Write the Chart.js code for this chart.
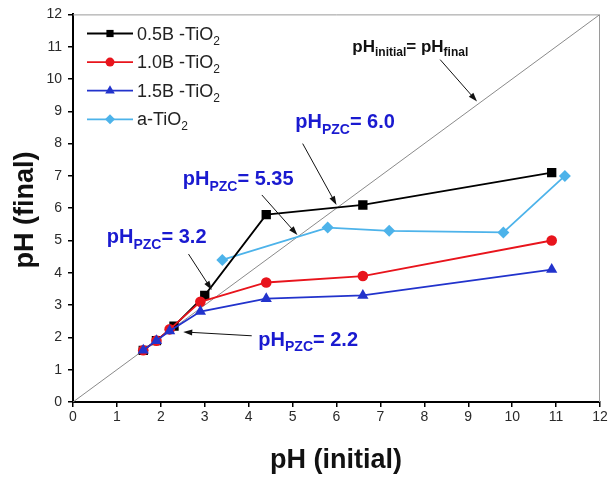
<!DOCTYPE html>
<html>
<head>
<meta charset="utf-8">
<script src="https://cdn.jsdelivr.net/npm/chart.js@4.4.1/dist/chart.umd.min.js"></script>
<style>
	html, body { margin: 0; padding: 0; background: #fff; }
	canvas { display: block; }
</style>
</head>
<body>
<canvas id="pzcChart" width="610" height="478"></canvas>
<script>
// values
const phInitial05 = [1.6, 1.9, 2.3, 3.0, 4.4, 6.6, 10.9]
const phFinal05 = [1.6, 1.9, 2.35, 3.3, 5.8, 6.1, 7.1]
const phInitial10 = [1.6, 1.9, 2.2, 2.9, 4.4, 6.6, 10.9]
const phFinal10 = [1.6, 1.9, 2.25, 3.1, 3.7, 3.9, 5.0]
const phInitial15 = [1.6, 1.9, 2.2, 2.9, 4.4, 6.6, 10.9]
const phFinal15 = [1.6, 1.9, 2.2, 2.8, 3.2, 3.3, 4.1]
const phInitialA = [3.4, 5.8, 7.2, 9.8, 11.2]
const phFinalA = [4.4, 5.4, 5.3, 5.25, 7.0]
const diagonal = [0, 12]
const axisTicks = [0, 1, 2, 3, 4, 5, 6, 7, 8, 9, 10, 11, 12]

const FONT = '"Liberation Sans", Arial, Helvetica, sans-serif'

/**
 * @param {number[]} xs
 * @param {number[]} ys
 */
function toPoints(xs, ys) {
	return xs.map((x, i) => ({ x, y: ys[i] }))
}

const series = [
	{ label: ['0.5B -TiO', '2'], color: '#000000', style: 'rect', radius: 6.6, legendR: 3.6, xs: phInitial05, ys: phFinal05, order: 2 },
	{ label: ['1.0B -TiO', '2'], color: '#e8141c', style: 'circle', radius: 5.3, legendR: 4.5, xs: phInitial10, ys: phFinal10, order: 1 },
	{ label: ['1.5B -TiO', '2'], color: '#2233cc', style: 'triangle', radius: 6.5, legendR: 5.5, xs: phInitial15, ys: phFinal15, order: 0 },
	{ label: ['a-TiO', '2'], color: '#4db3ea', style: 'rectRot', radius: 6, legendR: 5, xs: phInitialA, ys: phFinalA, order: 3 }
]

// text callouts, anchored in data units: [text, isSubscript] pieces
const callouts = [
	{ parts: [['pH', 0], ['initial', 1], ['= pH', 0], ['final', 1]], x: 6.36, y: 10.85, color: '#111', size: 17, sub: 12, from: [8.36, 10.6], to: [9.2, 9.3] },
	{ parts: [['pH', 0], ['PZC', 1], ['= 6.0', 0]], x: 5.06, y: 8.48, color: '#1a1ad0', size: 20, sub: 14, from: [5.23, 8.0], to: [6.0, 6.1] },
	{ parts: [['pH', 0], ['PZC', 1], ['= 5.35', 0]], x: 2.5, y: 6.72, color: '#1a1ad0', size: 20, sub: 14, from: [4.3, 6.41], to: [5.11, 5.17] },
	{ parts: [['pH', 0], ['PZC', 1], ['= 3.2', 0]], x: 0.77, y: 4.91, color: '#1a1ad0', size: 20, sub: 14, from: [2.63, 4.58], to: [3.16, 3.47] },
	{ parts: [['pH', 0], ['PZC', 1], ['= 2.2', 0]], x: 4.22, y: 1.74, color: '#1a1ad0', size: 20, sub: 14, from: [4.07, 2.05], to: [2.51, 2.17] }
]

function marker(ctx, style, x, y, r, color) {
	ctx.save()
	ctx.fillStyle = color
	ctx.beginPath()
	if (style === 'rect') {
		ctx.rect(x - r, y - r, r * 2, r * 2)
	} else if (style === 'circle') {
		ctx.arc(x, y, r, 0, Math.PI * 2)
	} else if (style === 'triangle') {
		ctx.moveTo(x, y - r)
		ctx.lineTo(x + r * 0.87, y + r * 0.5)
		ctx.lineTo(x - r * 0.87, y + r * 0.5)
		ctx.closePath()
	} else {
		ctx.moveTo(x, y - r)
		ctx.lineTo(x + r, y)
		ctx.lineTo(x, y + r)
		ctx.lineTo(x - r, y)
		ctx.closePath()
	}
	ctx.fill()
	ctx.restore()
}

function richText(ctx, parts, x, y, size, subSize, weight) {
	let cx = x
	parts.forEach(([text, isSub]) => {
		ctx.font = `${weight} ${isSub ? subSize : size}px ${FONT}`
		ctx.fillText(text, cx, isSub ? y + size * 0.28 : y)
		cx += ctx.measureText(text).width
	})
}

function arrow(ctx, x1, y1, x2, y2) {
	const ang = Math.atan2(y2 - y1, x2 - x1)
	const len = 9, half = 3
	ctx.save()
	ctx.strokeStyle = '#111'
	ctx.fillStyle = '#111'
	ctx.lineWidth = 1
	ctx.beginPath()
	ctx.moveTo(x1, y1)
	ctx.lineTo(x2 - Math.cos(ang) * len * 0.8, y2 - Math.sin(ang) * len * 0.8)
	ctx.stroke()
	ctx.beginPath()
	ctx.moveTo(x2, y2)
	ctx.lineTo(x2 - Math.cos(ang) * len - Math.sin(ang) * half, y2 - Math.sin(ang) * len + Math.cos(ang) * half)
	ctx.lineTo(x2 - Math.cos(ang) * len + Math.sin(ang) * half, y2 - Math.sin(ang) * len - Math.cos(ang) * half)
	ctx.closePath()
	ctx.fill()
	ctx.restore()
}

const decorations = {
	id: 'decorations',
	beforeDatasetsDraw(chart) {
		const { ctx, chartArea: a } = chart
		ctx.save()
		ctx.strokeStyle = '#9a9a9a'
		ctx.lineWidth = 1
		ctx.beginPath()
		ctx.moveTo(a.left, a.top + 0.5)
		ctx.lineTo(a.right - 0.5, a.top + 0.5)
		ctx.lineTo(a.right - 0.5, a.bottom)
		ctx.stroke()
		ctx.restore()
	},
	afterDraw(chart) {
		const { ctx, scales: { x, y } } = chart
		ctx.save()
		ctx.textBaseline = 'alphabetic'
		ctx.textAlign = 'left'

		// legend
		series.forEach((s, i) => {
			const ly = 33.5 + i * 28.6
			ctx.strokeStyle = s.color
			ctx.lineWidth = 1.8
			ctx.beginPath()
			ctx.moveTo(87, ly)
			ctx.lineTo(133, ly)
			ctx.stroke()
			marker(ctx, s.style, 110, ly, s.legendR, s.color)
			ctx.fillStyle = '#222'
			richText(ctx, [[s.label[0], 0], [s.label[1], 1]], 137, ly + 6, 18, 12, 'normal')
		})

		// callouts
		callouts.forEach((c) => {
			ctx.fillStyle = c.color
			richText(ctx, c.parts, x.getPixelForValue(c.x), y.getPixelForValue(c.y), c.size, c.sub, 'bold')
			arrow(ctx,
				x.getPixelForValue(c.from[0]), y.getPixelForValue(c.from[1]),
				x.getPixelForValue(c.to[0]), y.getPixelForValue(c.to[1]))
		})

		// axis titles
		ctx.fillStyle = '#111'
		ctx.font = `bold 27px ${FONT}`
		ctx.textAlign = 'center'
		ctx.textBaseline = 'middle'
		ctx.fillText('pH (initial)', 336, 461)
		ctx.translate(26, 210)
		ctx.rotate(-Math.PI / 2)
		ctx.fillText('pH (final)', 0, 0)
		ctx.restore()
	}
}

const axisStyle = {
	type: 'linear',
	min: 0,
	max: 12,
	afterBuildTicks: (scale) => { scale.ticks = axisTicks.map((v) => ({ value: v })) },
	ticks: { color: '#2a2a2a', font: { family: FONT, size: 14 } },
	grid: { drawOnChartArea: false, drawTicks: true, tickLength: 5, color: '#000', lineWidth: 1.5 },
	border: { color: '#000', width: 2 }
}

new Chart(document.getElementById('pzcChart'), {
	type: 'scatter',
	data: {
		datasets: [
			...series.map((s) => ({
				label: s.label.join(''),
				data: toPoints(s.xs, s.ys),
				showLine: true,
				borderColor: s.color,
				backgroundColor: s.color,
				borderWidth: 1.8,
				pointStyle: s.style,
				pointRadius: s.radius,
				pointBorderWidth: 0,
				order: s.order
			})),
			{
				label: 'diagonal',
				data: toPoints(diagonal, diagonal),
				showLine: true,
				borderColor: '#8a8a8a',
				borderWidth: 1,
				pointRadius: 0,
				order: 9
			}
		]
	},
	options: {
		responsive: false,
		animation: false,
		devicePixelRatio: 1,
		layout: { padding: { top: 14, right: 10, left: 0, bottom: 0 } },
		scales: {
			x: { ...axisStyle, ticks: { ...axisStyle.ticks, padding: 2 }, afterFit: (s) => { s.height = 76 } },
			y: { ...axisStyle, ticks: { ...axisStyle.ticks, padding: 6 }, afterFit: (s) => { s.width = 73 } }
		},
		plugins: { legend: { display: false }, tooltip: { enabled: false } }
	},
	plugins: [decorations]
})
</script>
</body>
</html>
